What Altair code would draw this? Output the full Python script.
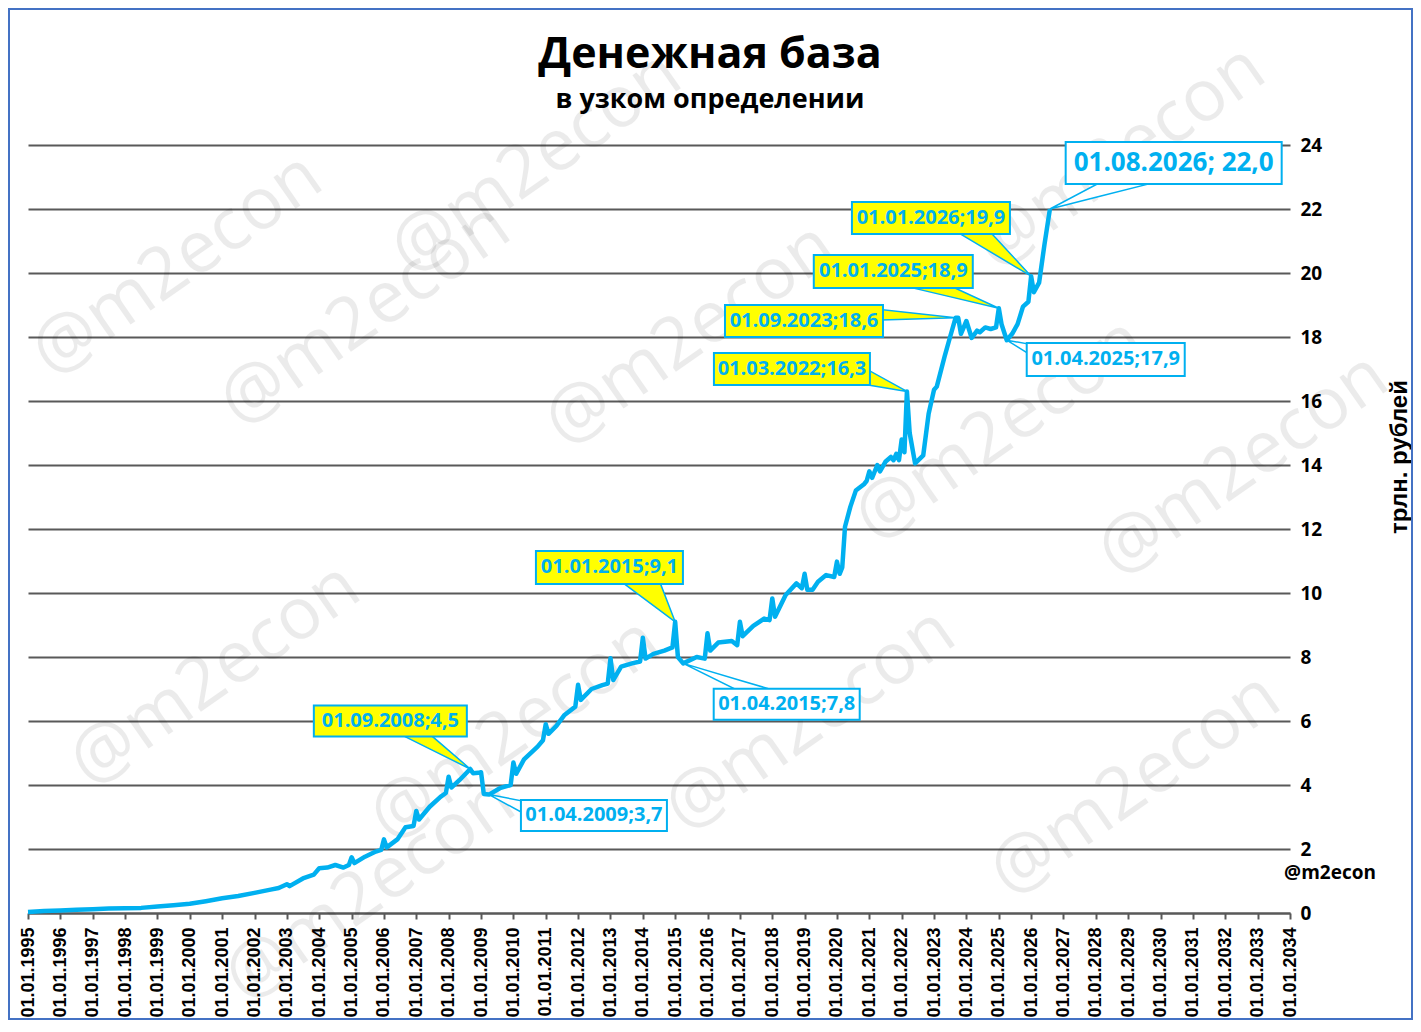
import altair as alt
import pandas as pd

# ---------------- data ----------------
dates = [
    "1995-01-01", "1995-07-01", "1996-01-01", "1996-07-01", "1997-01-01", "1997-07-01",
    "1998-01-01", "1998-07-01", "1999-01-01", "1999-07-01", "2000-01-01", "2000-07-01",
    "2001-01-01", "2001-07-01", "2002-01-01", "2002-07-01", "2002-10-01", "2003-01-01",
    "2003-02-01", "2003-07-01", "2003-11-01", "2004-01-01", "2004-04-01", "2004-07-01",
    "2004-10-01", "2004-12-01", "2005-01-01", "2005-02-01", "2005-06-01", "2005-10-01",
    "2005-12-01", "2006-01-01", "2006-02-01", "2006-06-01", "2006-09-01", "2006-12-01",
    "2007-01-01", "2007-02-01", "2007-06-01", "2007-10-01", "2007-12-01", "2008-01-01",
    "2008-02-01", "2008-05-01", "2008-09-01", "2008-10-01", "2008-12-01", "2009-01-01",
    "2009-02-01", "2009-04-01", "2009-08-01", "2009-12-01", "2010-01-01", "2010-02-01",
    "2010-05-01", "2010-10-01", "2010-12-01", "2011-01-01", "2011-02-01", "2011-05-01",
    "2011-08-01", "2011-12-01", "2012-01-01", "2012-02-01", "2012-06-01", "2012-10-01",
    "2012-12-01", "2013-01-01", "2013-02-01", "2013-05-01", "2013-09-01", "2013-12-01",
    "2014-01-01", "2014-02-01", "2014-05-01", "2014-09-01", "2014-12-01", "2015-01-01",
    "2015-02-01", "2015-04-01", "2015-09-01", "2015-12-01", "2016-01-01", "2016-02-01",
    "2016-05-01", "2016-10-01", "2016-12-01", "2017-01-01", "2017-02-01", "2017-06-01",
    "2017-10-01", "2017-12-01", "2018-01-01", "2018-02-01", "2018-06-01", "2018-10-01",
    "2018-12-01", "2019-01-01", "2019-02-01", "2019-04-01", "2019-06-01", "2019-09-01",
    "2019-12-01", "2020-01-01", "2020-02-01", "2020-03-01", "2020-04-01", "2020-06-01",
    "2020-08-01", "2020-11-01", "2020-12-01", "2021-01-01", "2021-02-01", "2021-04-01",
    "2021-05-01", "2021-07-01", "2021-09-01", "2021-10-01", "2021-11-01", "2021-12-01",
    "2022-01-01", "2022-02-01", "2022-03-01", "2022-04-01", "2022-06-01", "2022-09-01",
    "2022-11-01", "2023-01-01", "2023-02-01", "2023-05-01", "2023-07-01", "2023-09-01",
    "2023-10-01", "2023-11-01", "2024-01-01", "2024-03-01", "2024-05-01", "2024-06-01",
    "2024-08-01", "2024-10-01", "2024-12-01", "2025-01-01", "2025-02-01", "2025-04-01",
    "2025-06-01", "2025-08-01", "2025-10-01", "2025-12-01", "2026-01-01", "2026-02-01",
    "2026-04-01", "2026-06-01", "2026-08-01",
]
values = [
    0.03, 0.06, 0.08, 0.10, 0.12, 0.14,
    0.15, 0.16, 0.20, 0.24, 0.29, 0.37,
    0.46, 0.53, 0.63, 0.73, 0.78, 0.90,
    0.84, 1.08, 1.20, 1.40, 1.42, 1.50,
    1.42, 1.50, 1.74, 1.56, 1.76, 1.92,
    1.97, 2.30, 2.05, 2.30, 2.68, 2.72,
    3.19, 2.92, 3.32, 3.63, 3.75, 4.26,
    3.92, 4.15, 4.50, 4.37, 4.38, 4.40,
    3.72, 3.70, 3.90, 4.00, 4.70, 4.35,
    4.80, 5.20, 5.40, 5.90, 5.60, 5.85,
    6.19, 6.45, 7.13, 6.66, 7.00, 7.12,
    7.17, 7.96, 7.28, 7.70, 7.80, 7.86,
    8.60, 7.95, 8.10, 8.20, 8.30, 9.10,
    8.00, 7.80, 8.00, 7.95, 8.74, 8.20,
    8.45, 8.50, 8.37, 9.10, 8.65, 8.97,
    9.20, 9.15, 9.83, 9.26, 9.94, 10.30,
    10.15, 10.60, 10.10, 10.10, 10.35, 10.56,
    10.50, 10.98, 10.60, 10.80, 12.07, 12.70,
    13.20, 13.40, 13.50, 13.80, 13.60, 14.00,
    13.80, 14.10, 14.25, 14.15, 14.35, 14.15,
    14.80, 14.40, 16.30, 15.00, 14.05, 14.30,
    15.60, 16.35, 16.45, 17.40, 18.00, 18.60,
    18.60, 18.10, 18.50, 17.97, 18.20, 18.15,
    18.30, 18.25, 18.30, 18.90, 18.40, 17.90,
    18.10, 18.40, 18.95, 19.10, 19.90, 19.40,
    19.70, 20.90, 22.00,
]

# annotated points
ann_dates = ["2008-09-01", "2009-04-01", "2015-01-01", "2015-04-01", "2022-03-01",
             "2023-09-01", "2025-01-01", "2025-04-01", "2026-01-01", "2026-08-01"]
ann_values = [4.5, 3.7, 9.1, 7.8, 16.3, 18.6, 18.9, 17.9, 19.9, 22.0]
ann_labels = ["01.09.2008;4,5", "01.04.2009;3,7", "01.01.2015;9,1", "01.04.2015;7,8",
              "01.03.2022;16,3", "01.09.2023;18,6", "01.01.2025;18,9", "01.04.2025;17,9",
              "01.01.2026;19,9", "01.08.2026; 22,0"]
ann_fill = ["#FFFF00", "#FFFFFF", "#FFFF00", "#FFFFFF", "#FFFF00",
            "#FFFF00", "#FFFF00", "#FFFFFF", "#FFFF00", "#FFFFFF"]

# label box layout (centre in data space, size in px)
box_dates = ["2006-03-14", "2012-06-28", "2012-12-20", "2018-06-13", "2018-08-11",
             "2018-12-25", "2021-09-28", "2028-04-22", "2022-11-27", "2030-05-29"]
box_values = [6.0, 3.05, 10.8, 6.52, 17.0, 18.5, 20.05, 17.3, 21.72, 23.44]
box_w = [153, 146, 147, 146, 156, 158, 159, 158, 158, 216]
box_h = [31, 31, 33, 31, 32, 32, 33, 33, 32, 42]
box_font = [20, 20, 20, 20, 20, 20, 20, 20, 20, 26]

# callout pointer bases: two points (date, value) on the box edge, per annotation
ptr_a_date = ["2006-07-01", "2010-04-17", "2013-05-10", "2016-12-20", "2020-12-17",
              "2021-05-12", "2022-02-07", "2025-12-06", "2023-04-22", "2028-02-28"]
ptr_a_val = [5.59, 3.5, 10.34, 6.94, 16.97, 18.86, 19.59, 17.78, 21.53, 22.84]
ptr_b_date = ["2007-06-01", "2010-04-17", "2014-07-12", "2018-02-12", "2020-12-17",
              "2021-05-12", "2023-07-08", "2025-12-06", "2024-07-05", "2029-11-10"]
ptr_b_val = [5.59, 3.125, 10.34, 6.94, 16.5, 18.53, 19.59, 17.47, 21.53, 22.84]

year_ticks = list(range(1995, 2035))
y_ticks = list(range(0, 25, 2))

# watermark positions (px, relative to plot origin)
wm_x = [149, 337, 508, 662, 1092, 972, 1215, 187, 487, 782, 1107, 342]
wm_y = [120, 170, 18, 190, 12, 285, 320, 530, 585, 575, 640, 745]

# ---------------- build ----------------
BLUE = "#00B0F0"
W, H = 1262, 768

xscale = alt.Scale(type="utc",
                   domain=[alt.DateTime(year=1995, month=1, date=1, utc=True),
                           alt.DateTime(year=2034, month=1, date=1, utc=True)])
yscale = alt.Scale(domain=[0, 24], nice=False, zero=True)

x_axis = alt.Axis(values=[alt.DateTime(year=y, month=1, date=1, utc=True) for y in year_ticks],
                  labelExpr="utcFormat(datum.value, '%d.%m.%Y')",
                  labelAngle=270, labelFont="Liberation Sans", labelFontWeight="bold",
                  labelFontSize=18, labelColor="#000000", labelPadding=8,
                  labelOverlap=False, labelFlush=False, labelBound=False,
                  grid=False, domainColor="#595959", domainWidth=2,
                  tickColor="#595959", tickWidth=2, tickSize=6, title=None)
y_axis = alt.Axis(orient="right", values=y_ticks, labelFont="Open Sans",
                  labelFontWeight="bold", labelFontSize=19, labelColor="#000000",
                  labelPadding=10, labelFlush=False, grid=True, gridColor="#595959",
                  gridWidth=2, ticks=False, domain=False, title=None)

df = pd.DataFrame({"date": dates, "value": values})

line = alt.Chart(df).mark_line(color=BLUE, strokeWidth=4.5, strokeJoin="round").encode(
    x=alt.X("date:T", scale=xscale, axis=x_axis),
    y=alt.Y("value:Q", scale=yscale, axis=y_axis),
)


def ms(d):
    return pd.Timestamp(d).value // 10**6


def triangle_rows(verts):
    """vertical extent of a triangle at each vertex position -> area rows"""
    edges = [(verts[0], verts[1]), (verts[1], verts[2]), (verts[2], verts[0])]
    rows = []
    for t in sorted(set(v[0] for v in verts)):
        ys = []
        for (t1, y1), (t2, y2) in edges:
            lo, hi = min(t1, t2), max(t1, t2)
            if lo <= t <= hi:
                if t1 == t2:
                    ys += [y1, y2]
                else:
                    ys.append(y1 + (y2 - y1) * (t - t1) / (t2 - t1))
        rows.append({"t": t, "y": min(ys), "y2": max(ys)})
    return pd.DataFrame(rows)


pointers = []
for i in range(len(ann_dates)):
    verts = [(ms(ptr_a_date[i]), ptr_a_val[i]), (ms(ptr_b_date[i]), ptr_b_val[i]),
             (ms(ann_dates[i]), ann_values[i])]
    pointers.append(
        alt.Chart(triangle_rows(verts)).mark_area(
            fill=ann_fill[i], stroke=BLUE, strokeWidth=1.5, opacity=1, fillOpacity=1).encode(
            x=alt.X("t:T", scale=xscale, axis=x_axis),
            y=alt.Y("y:Q", scale=yscale, axis=y_axis),
            y2="y2:Q",
        )
    )

box_df = pd.DataFrame({
    "bd": box_dates, "bv": box_values, "label": ann_labels, "fill": ann_fill,
    "size": [w * w for w in box_w],
    "shape": [f"M-1,-{h / w:.4f}H1V{h / w:.4f}H-1Z" for w, h in zip(box_w, box_h)],
    "fs": box_font,
})
boxes = alt.Chart(box_df).mark_point(filled=True, stroke=BLUE, strokeWidth=2, opacity=1).encode(
    x=alt.X("bd:T", scale=xscale, axis=x_axis),
    y=alt.Y("bv:Q", scale=yscale, axis=y_axis),
    shape=alt.Shape("shape:N", scale=None),
    size=alt.Size("size:Q", scale=None),
    fill=alt.Fill("fill:N", scale=None),
)
labels = alt.Chart(box_df).mark_text(font="Open Sans", fontWeight="bold", color=BLUE,
                                     align="center", baseline="middle").encode(
    x=alt.X("bd:T", scale=xscale, axis=x_axis),
    y=alt.Y("bv:Q", scale=yscale, axis=y_axis),
    text="label:N",
    size=alt.Size("fs:Q", scale=None),
)

one = pd.DataFrame({"k": [0]})

watermarks = [
    alt.Chart(one).mark_text(text="@m2econ", font="Open Sans", fontSize=72, angle=325,
                             color="#000000", opacity=0.075, align="center",
                             baseline="middle").encode(x=alt.value(xx), y=alt.value(yy))
    for xx, yy in zip(wm_x, wm_y)
]

title = alt.Chart(one).mark_text(text="Денежная база", font="Open Sans", fontWeight="bold",
                                 fontSize=43, color="#000000", align="center",
                                 baseline="alphabetic").encode(x=alt.value(682), y=alt.value(-77))
subtitle = alt.Chart(one).mark_text(text="в узком определении", font="Open Sans", fontWeight="bold",
                                    fontSize=27, color="#000000", align="center",
                                    baseline="alphabetic").encode(x=alt.value(682), y=alt.value(-37))
credit = alt.Chart(one).mark_text(text="@m2econ", font="Open Sans", fontWeight="bold",
                                  fontSize=19, color="#000000", align="center",
                                  baseline="middle").encode(x=alt.value(1302), y=alt.value(728))
ytitle = alt.Chart(one).mark_text(text="трлн. рублей", font="Liberation Sans", fontWeight="bold",
                                  fontSize=24, color="#000000", angle=270, align="center",
                                  baseline="middle").encode(x=alt.value(1372), y=alt.value(312))
border = alt.Chart(one).mark_rect(fillOpacity=0, stroke="#4472C4", strokeWidth=2).encode(
    x=alt.value(-19), x2=alt.value(1384), y=alt.value(-136), y2=alt.value(874))

chart = alt.layer(
    *watermarks, line, *pointers, boxes, labels, title, subtitle, credit, ytitle, border
).properties(
    width=W, height=H,
    autosize=alt.AutoSizeParams(type="none"),
    padding={"left": 20, "top": 137, "right": 123, "bottom": 107},
    background="#FFFFFF",
).configure_view(stroke=None)

chart.save("out.html", embed_options={"renderer": "svg", "actions": False})
